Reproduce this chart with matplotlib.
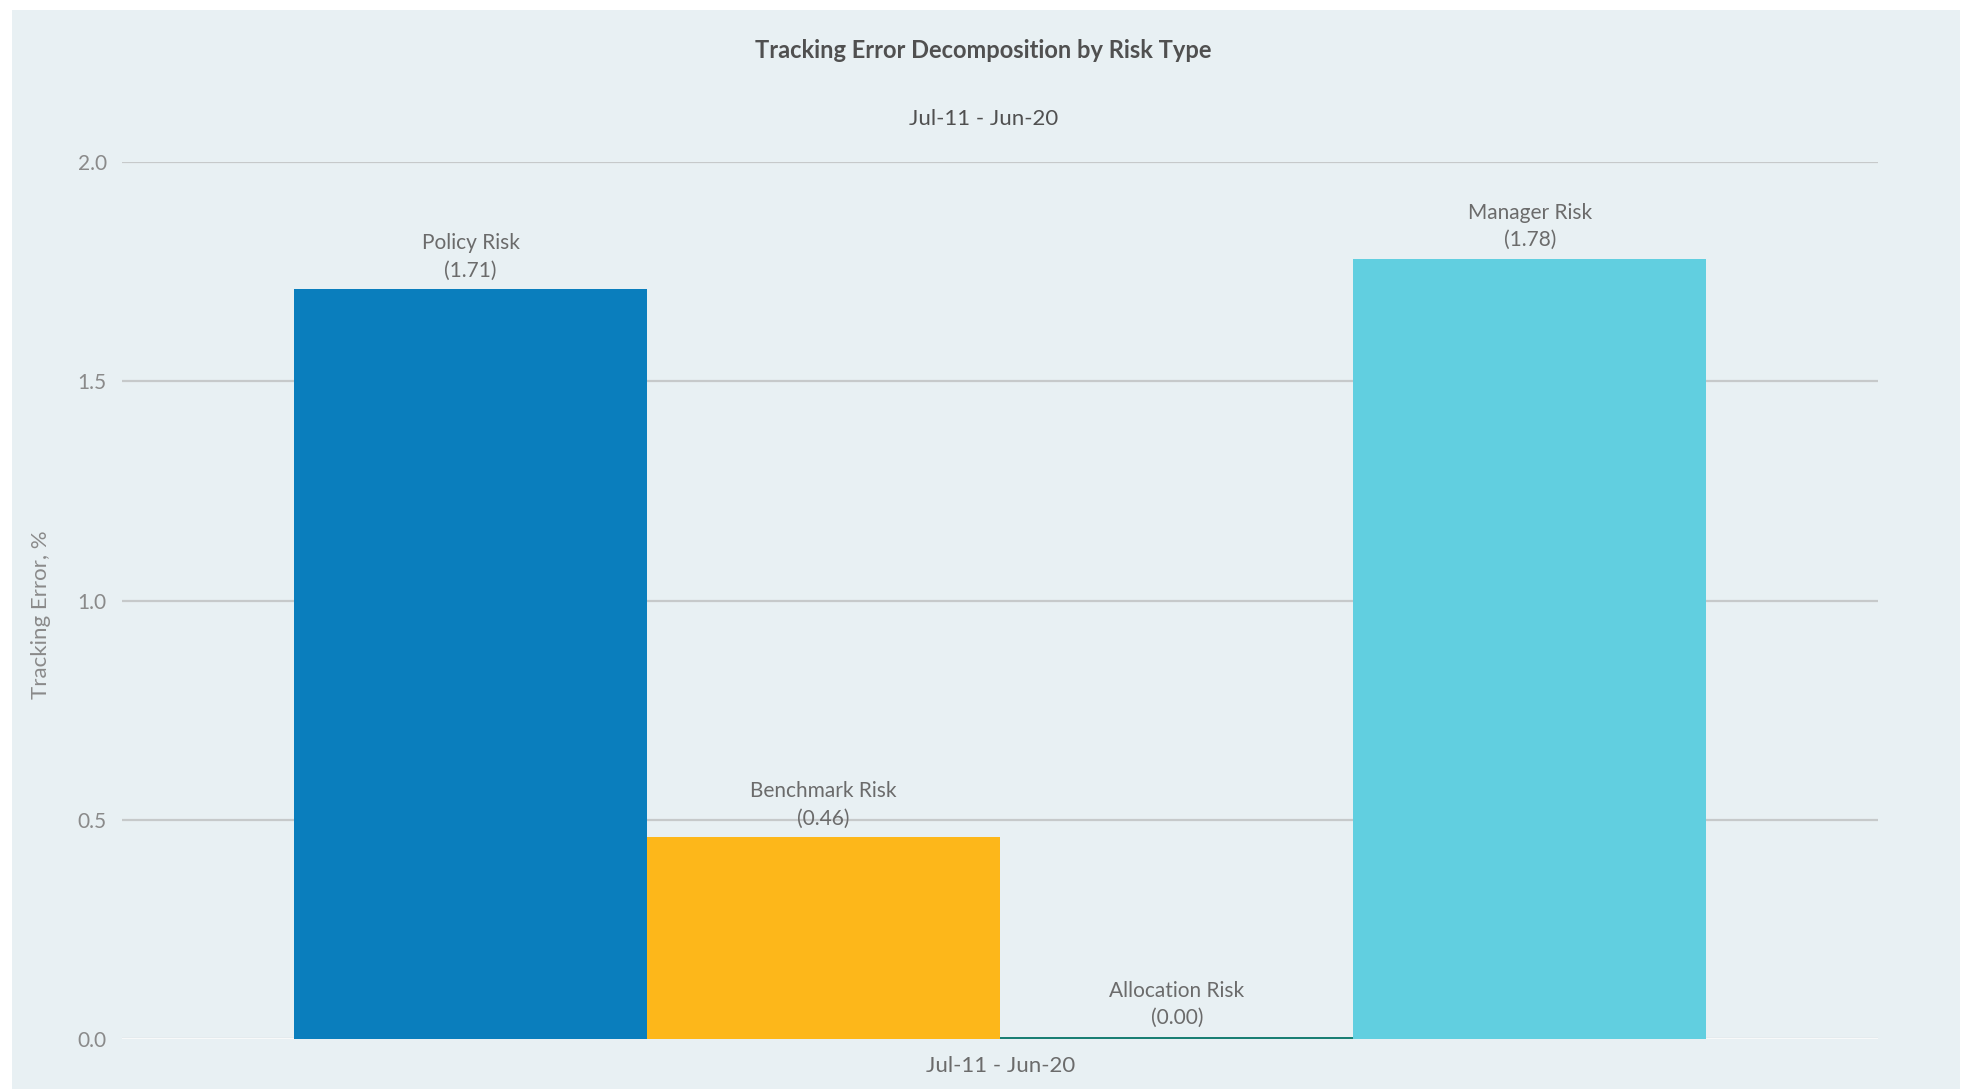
import matplotlib.pyplot as plt
from matplotlib.patches import Rectangle
import numpy as np

period = 'Jul-11 - Jun-20'
risk_types = ['Policy Risk', 'Benchmark Risk', 'Allocation Risk', 'Manager Risk']
tracking_error = [1.71, 0.46, 0.005, 1.78]
shown_values = [1.71, 0.46, 0.00, 1.78]
bar_colors = ['#0A7EBD', '#FDB71A', '#1A7F74', '#61CFE0']
y_ticks = [0.0, 0.5, 1.0, 1.5, 2.0]


def main():
    plt.rcParams['font.family'] = ['Lato', 'DejaVu Sans']
    text_gray = '#6b6b6b'

    fig = plt.figure(figsize=(19.67, 10.92), dpi=100)
    fig.patch.set_facecolor('white')
    # light panel behind the whole chart
    panel = Rectangle((12 / 1967, 3 / 1092), 1948 / 1967, 1079 / 1092,
                      transform=fig.transFigure, facecolor='#E8F0F3',
                      edgecolor='none', zorder=-10)
    fig.add_artist(panel)

    ax = fig.add_axes([0.062, 0.0485, 0.893, 0.803])
    ax.set_facecolor('none')

    bar_width = 0.201
    n = len(risk_types)
    offsets = (np.arange(n) - (n - 1) / 2) * bar_width
    for off, val, shown, name, col in zip(offsets, tracking_error, shown_values, risk_types, bar_colors):
        ax.bar(off, val, bar_width, color=col, zorder=3)
        ax.text(off, val + 0.02, f'{name}\n({shown:.2f})', ha='center', va='bottom',
                fontsize=15, color=text_gray, linespacing=1.45, zorder=4)

    ax.set_xlim(-0.5, 0.5)
    ax.set_ylim(0, 2.0)
    ax.set_yticks(y_ticks)
    ax.set_yticklabels([f'{t:.1f}' for t in y_ticks], fontsize=15, color='#8a8a8a')
    ax.set_xticks([0])
    ax.set_xticklabels([period], fontsize=16, color=text_gray)
    ax.tick_params(axis='x', length=0, pad=12)
    ax.tick_params(axis='y', length=0, pad=11)
    ax.grid(axis='y', color='#c6c9ca', linewidth=1.6, zorder=1)
    ax.axhline(0, color='white', linewidth=2, zorder=2)
    for s in ax.spines.values():
        s.set_visible(False)

    ax.set_ylabel('Tracking Error, %', fontsize=16, color='#8a8a8a', va='center')
    ax.yaxis.set_label_coords(-0.046, 0.484)

    fig.text(0.5, 1 - 50 / 1092, 'Tracking Error Decomposition by Risk Type', ha='center',
             va='center', fontsize=17, fontweight='bold', color='#505050')
    fig.text(0.5, 1 - 119 / 1092, period, ha='center', va='center',
             fontsize=16, color='#505050')

    fig.savefig('out.png', dpi=100)


if __name__ == '__main__':
    main()
